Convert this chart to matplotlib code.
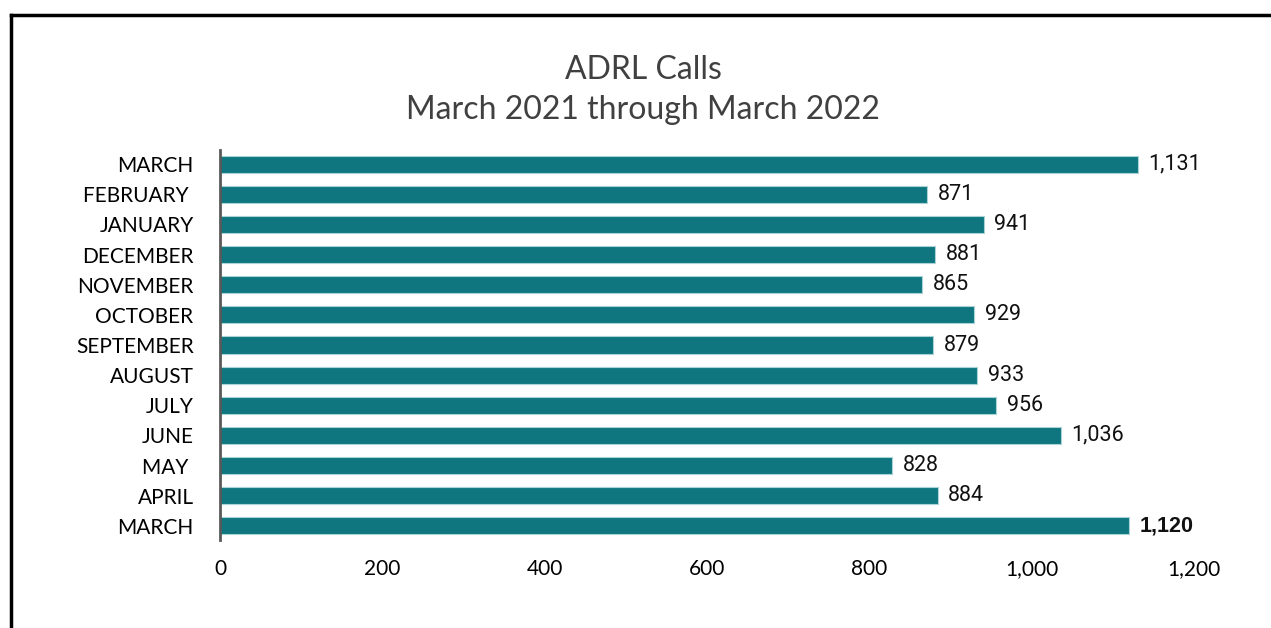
import numpy as np
import matplotlib.pyplot as plt
from matplotlib.lines import Line2D

# data, bottom to top as drawn
months = ['MARCH', 'APRIL', 'MAY ', 'JUNE', 'JULY', 'AUGUST', 'SEPTEMBER',
          'OCTOBER', 'NOVEMBER', 'DECEMBER', 'JANUARY', 'FEBRUARY ', 'MARCH']
calls = [1120, 884, 828, 1036, 956, 933, 879, 929, 865, 881, 941, 871, 1131]
xticks = [0, 200, 400, 600, 800, 1000, 1200]

W, H = 1271, 628
fig = plt.figure(figsize=(W / 100, H / 100), dpi=100)
# axes box in pixel units -> figure fraction
ax = fig.add_axes([220 / W, (H - 540) / H, (1194 - 220) / W, (540 - 150) / H])

bar_color = '#0F7680'
y = np.arange(len(months))
ax.barh(y, calls, height=0.57, color=bar_color, edgecolor='#A9D3D6', linewidth=0.8)

ax.set_xlim(0, 1200)
ax.set_ylim(-0.47, len(months) - 0.53)
ax.set_yticks(y)
ax.set_yticklabels(months, fontsize=15, family='Lato')
ax.set_xticks(xticks)
ax.set_xticklabels([f'{v:,}' for v in xticks], fontsize=15, family='Lato')
ax.tick_params(axis='y', length=0, pad=19)
ax.tick_params(axis='x', length=0, pad=14)
for s in ['top', 'right', 'bottom']:
    ax.spines[s].set_visible(False)
ax.spines['left'].set_color('#595959')
ax.spines['left'].set_linewidth(2)

# value labels
for i, v in enumerate(calls):
    bold = (i == 0)
    ax.text(v + 13, i, f'{v:,}', va='center', ha='left', fontsize=15.5,
            family='Liberation Sans' if bold else 'Roboto',
            fontweight='bold' if bold else 'normal', color='#111111',
            clip_on=False)

fig.text(643 / W, 1 - 70 / H, 'ADRL Calls', ha='center', va='center',
         fontsize=23, color='#404040', family='Lato')
fig.text(643 / W, 1 - 110 / H, 'March 2021 through March 2022', ha='center',
         va='center', fontsize=23, color='#404040', family='Lato')

# outer frame (top and left edges visible)
fig.add_artist(Line2D([11 / W, 11 / W], [0, 1 - 15 / H], color='black', lw=2.5,
                      transform=fig.transFigure))
fig.add_artist(Line2D([11 / W, 1], [1 - 15 / H, 1 - 15 / H], color='black', lw=2.5,
                      transform=fig.transFigure))

fig.savefig('out.png', dpi=100)
